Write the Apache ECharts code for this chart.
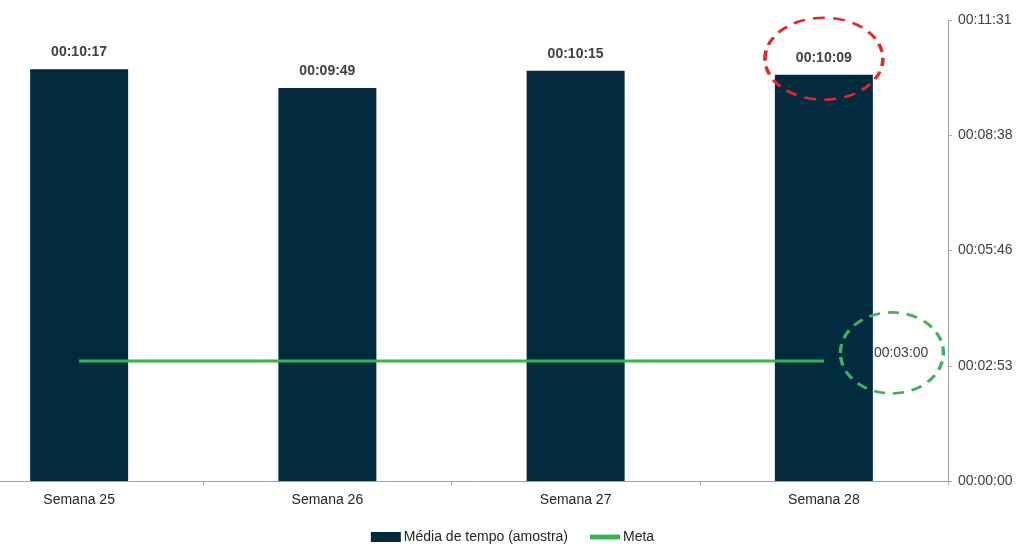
<!DOCTYPE html>
<html><head><meta charset="utf-8">
<script src="https://cdn.jsdelivr.net/npm/echarts@6/dist/echarts.min.js"></script>
<style>html,body{margin:0;padding:0;background:#fff}#c{width:1025px;height:549px}</style>
</head><body><div id="c"></div>
<script>
const categories = ['Semana 25', 'Semana 26', 'Semana 27', 'Semana 28'];
const mediaSeconds = [617, 589, 615, 609];
const metaSeconds = [180, 180, 180, 180];
const yMin = 0, yMax = 691, yInterval = 172.75;
const seriesNames = ['Média de tempo (amostra)', 'Meta'];

function fmt(s) {
  s = Math.round(s);
  const h = Math.floor(s / 3600), m = Math.floor((s % 3600) / 60), sec = s % 60;
  const p = n => String(n).padStart(2, '0');
  return p(h) + ':' + p(m) + ':' + p(sec);
}
const FONT = '"Liberation Sans Narrow", "Arial Narrow", "Liberation Sans", Arial, sans-serif';
const ellipse = 'path://M0,50 A50,50 0 1,1 100,50 A50,50 0 1,1 0,50 Z';
const chart = echarts.init(document.getElementById('c'));
chart.setOption({
  animation: false,
  textStyle: { fontFamily: FONT },
  grid: { left: -45, right: 77, top: 20, bottom: 68, outerBoundsMode: 'none', containLabel: false },
  legend: {
    bottom: 0, left: 'center', itemGap: 22, itemWidth: 30, itemHeight: 10,
    textStyle: { fontSize: 14, color: '#262626', fontFamily: FONT, padding: [0, 0, 0, -2] },
    data: [
      { name: seriesNames[0], icon: 'rect' },
      { name: seriesNames[1], icon: 'path://M0,42 L100,42 L100,58 L0,58 Z' }
    ]
  },
  xAxis: {
    type: 'category', data: categories,
    axisLine: { lineStyle: { color: '#a6a6a6', width: 1 } },
    axisTick: { show: true, length: 4, lineStyle: { color: '#a6a6a6' } },
    axisLabel: { fontSize: 14, color: '#262626', margin: 12, fontFamily: FONT }
  },
  yAxis: {
    type: 'value', position: 'right', min: yMin, max: yMax, interval: yInterval,
    splitLine: { show: false },
    axisLine: { show: true, lineStyle: { color: '#a6a6a6', width: 1 } },
    axisTick: { show: true, length: 4, lineStyle: { color: '#a6a6a6' } },
    axisLabel: { fontSize: 14, color: '#404040', margin: 10, formatter: v => fmt(v), fontFamily: FONT }
  },
  series: [
    {
      name: seriesNames[0], type: 'bar', data: mediaSeconds, barWidth: 98,
      itemStyle: { color: '#032b40' },
      label: { show: true, position: 'top', distance: 10, fontSize: 14, color: '#404040', fontWeight: 'bold', formatter: p => fmt(p.value), fontFamily: FONT },
      markPoint: {
        silent: true,
        symbol: ellipse, symbolKeepAspect: false,
        label: { show: false },
        data: [{
          coord: [categories[3], mediaSeconds[3]], symbolSize: [118, 82], symbolOffset: [0, -16],
          itemStyle: { color: 'rgba(0,0,0,0)', borderColor: '#e8262b', borderWidth: 3, borderType: [10, 7] }
        }]
      }
    },
    {
      name: seriesNames[1], type: 'line', data: metaSeconds, symbol: 'none', showSymbol: false,
      lineStyle: { color: '#34b552', width: 3 }, itemStyle: { color: '#34b552' },
      endLabel: { show: true, formatter: p => fmt(p.value), fontSize: 14, color: '#404040', distance: 50, offset: [0, -8], fontFamily: FONT },
      markPoint: {
        silent: true,
        symbol: ellipse, symbolKeepAspect: false,
        label: { show: false },
        data: [{
          coord: [categories[3], metaSeconds[3]], symbolSize: [103, 81], symbolOffset: [68, -8],
          itemStyle: { color: 'rgba(0,0,0,0)', borderColor: '#3cb55a', borderWidth: 3, borderType: [10, 7] }
        }]
      }
    }
  ]
});
</script></body></html>
